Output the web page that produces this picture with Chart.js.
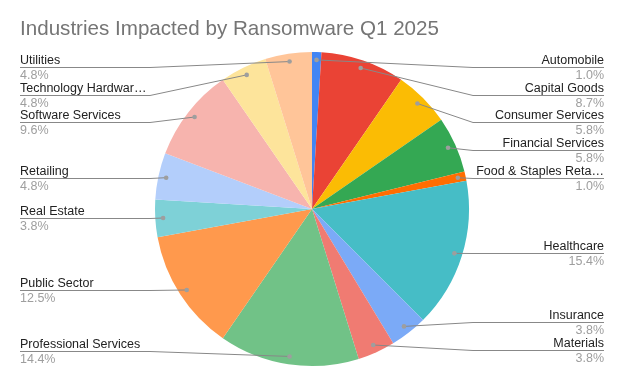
<!DOCTYPE html>
<html>
<head>
<meta charset="utf-8">
<script src="https://cdn.jsdelivr.net/npm/chart.js@4.4.1/dist/chart.umd.min.js"></script>
<style>
  html, body { margin: 0; padding: 0; background: #fff; }
  #wrap { width: 624px; height: 385px; }
</style>
</head>
<body>
<div id="wrap"><canvas id="chart1" width="624" height="385"></canvas></div>
<script>
// Data (incident counts, shown as shares)
var industries = ['Automobile', 'Capital Goods', 'Consumer Services', 'Financial Services',
    'Food & Staples Retailing', 'Healthcare', 'Insurance', 'Materials', 'Professional Services',
    'Public Sector', 'Real Estate', 'Retailing', 'Software Services', 'Technology Hardware', 'Utilities'];
var incidents = [1, 9, 6, 6, 1, 16, 4, 4, 15, 13, 4, 5, 10, 5, 5];
var sliceColors = ['#4285f4', '#ea4335', '#fbbc04', '#34a853', '#ff6d01', '#46bdc6', '#7baaf7',
    '#f07b72', '#71c287', '#ff994d', '#7ed1d7', '#b3cefb', '#f7b4ae', '#fde49b', '#ffc599'];
var chartTitle = 'Industries Impacted by Ransomware Q1 2025';

var FONT = '"Liberation Sans", Arial, sans-serif';

function fitText(ctx, text, maxW) {
    if (ctx.measureText(text).width <= maxW) return text;
    var t = text;
    while (t.length > 1 && ctx.measureText(t).width > maxW) t = t.slice(0, -1);
    return t.replace(/\s+$/, '') + '\u2026';
}

// spread label rows so they don't collide
function spread(items, gap, top, bottom) {
    items.sort(function (a, b) { return a.y - b.y; });
    for (var it = 0; it < 200; it++) {
        items.forEach(function (d) { d.y = Math.min(Math.max(d.y, top), bottom); });
        for (var i = 1; i < items.length; i++) {
            var over = gap - (items[i].y - items[i - 1].y);
            if (over > 0) { items[i - 1].y -= over / 2; items[i].y += over / 2; }
        }
    }
    items.forEach(function (d) { d.y = Math.min(Math.max(d.y, top), bottom); });
}

var sliceLabels = {
    id: 'sliceLabels',
    afterDraw: function (chart) {
        var ctx = chart.ctx;
        var meta = chart.getDatasetMeta(0);
        var total = incidents.reduce(function (a, b) { return a + b; }, 0);
        var left = [], right = [];

        meta.data.forEach(function (arc, i) {
            var p = arc.getProps(['x', 'y', 'startAngle', 'endAngle', 'outerRadius'], true);
            var mid = (p.startAngle + p.endAngle) / 2;
            var r = p.outerRadius * 0.95;
            var d = {
                i: i,
                dx: p.x + Math.cos(mid) * r,
                dy: p.y + Math.sin(mid) * r
            };
            d.y = d.dy;
            (Math.cos(mid) >= 0 ? right : left).push(d);
        });

        spread(left, 27.7, 67, 351);
        spread(right, 27.7, 67, 351);

        ctx.save();
        // title
        ctx.font = '20.6px ' + FONT;
        ctx.fillStyle = '#757575';
        ctx.textAlign = 'left';
        ctx.textBaseline = 'alphabetic';
        ctx.fillText(chartTitle, 20, 35);

        function drawSide(items, isLeft) {
            var textX = isLeft ? 20 : 604;
            var bendX = isLeft ? 150 : 473;
            var limit = isLeft ? 120.5 : 117;
            items.forEach(function (d) {
                var y = Math.round(d.y) + 0.5;
                ctx.strokeStyle = '#888888';
                ctx.lineWidth = 1;
                ctx.beginPath();
                ctx.moveTo(textX, y);
                ctx.lineTo(bendX, y);
                ctx.lineTo(d.dx, d.dy);
                ctx.stroke();

                ctx.fillStyle = '#9e9e9e';
                ctx.beginPath();
                ctx.arc(d.dx, d.dy, 2.3, 0, Math.PI * 2);
                ctx.fill();

                ctx.textAlign = isLeft ? 'left' : 'right';
                ctx.font = '12.5px ' + FONT;
                ctx.fillStyle = '#222222';
                ctx.fillText(fitText(ctx, industries[d.i], limit), textX, y - 4);
                ctx.fillStyle = '#9e9e9e';
                ctx.fillText((incidents[d.i] / total * 100).toFixed(1) + '%', textX, y + 11.5);
            });
        }
        drawSide(left, true);
        drawSide(right, false);
        ctx.restore();
    }
};

var ctx1 = document.getElementById('chart1').getContext('2d');
new Chart(ctx1, {
    type: 'pie',
    data: {
        labels: industries,
        datasets: [{
            data: incidents,
            backgroundColor: sliceColors,
            borderWidth: 0
        }]
    },
    options: {
        responsive: false,
        animation: false,
        layout: { padding: { top: 52, bottom: 19, left: 100, right: 100 } },
        plugins: {
            legend: { display: false },
            tooltip: { enabled: false }
        }
    },
    plugins: [sliceLabels]
});
</script>
</body>
</html>
